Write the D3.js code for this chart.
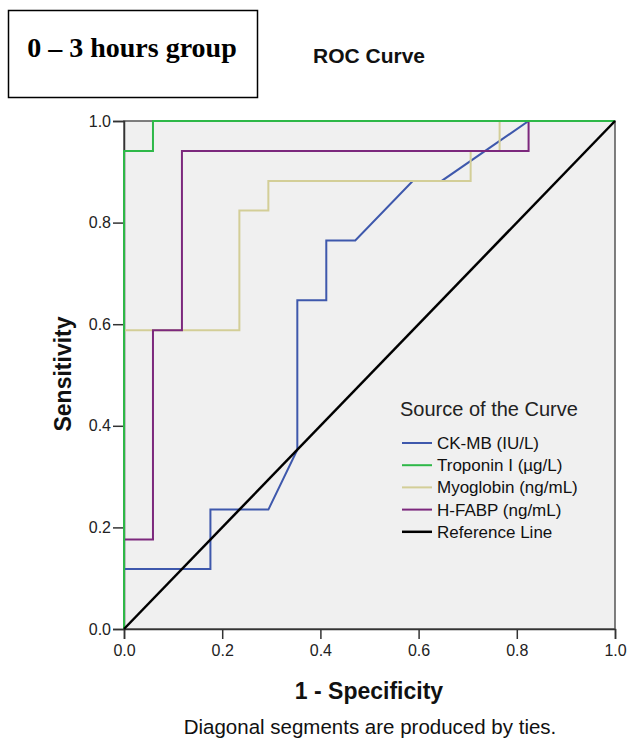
<!DOCTYPE html>
<html>
    <head>
        <title>ROC Curve</title>
        <script src="https://d3js.org/d3.v7.min.js"></script>
        <style>
            body { margin: 0; background: #fff; }
            text { font-family: "Liberation Sans", Arial, sans-serif; }
        </style>
    </head>
    <body>
        <svg width="627" height="743"></svg>
        <script>
            // data (n = 17 per group, steps of 1/17)
            const xTicks = [0, 0.2, 0.4, 0.6, 0.8, 1.0];
            const yTicks = [0, 0.2, 0.4, 0.6, 0.8, 1.0];

            const ckmbX = [0, 0, 0.176, 0.176, 0.294, 0.353, 0.353, 0.412, 0.412, 0.471, 0.588, 0.647, 0.824, 1];
            const ckmbY = [0, 0.118, 0.118, 0.235, 0.235, 0.353, 0.647, 0.647, 0.765, 0.765, 0.882, 0.882, 1, 1];

            const tropX = [0, 0, 0.059, 0.059, 1];
            const tropY = [0, 0.941, 0.941, 1, 1];

            const myoX = [0, 0, 0.235, 0.235, 0.294, 0.294, 0.706, 0.706, 0.765, 0.765, 1];
            const myoY = [0, 0.588, 0.588, 0.824, 0.824, 0.882, 0.882, 0.941, 0.941, 1, 1];

            const hfabpX = [0, 0, 0.059, 0.059, 0.118, 0.118, 0.824, 0.824, 1];
            const hfabpY = [0, 0.176, 0.176, 0.588, 0.588, 0.941, 0.941, 1, 1];

            const refX = [0, 1];
            const refY = [0, 1];

            const seriesNames = ["CK-MB (IU/L)", "Troponin I (µg/L)", "Myoglobin (ng/mL)", "H-FABP (ng/mL)", "Reference Line"];
            const seriesColors = ["#3e58ac", "#2eb848", "#d3ce97", "#7c287d", "#000000"];

            const zip = (xs, ys) => xs.map((v, i) => ({ x: v, y: ys[i] }));
            const series = [
                zip(ckmbX, ckmbY),
                zip(tropX, tropY),
                zip(myoX, myoY),
                zip(hfabpX, hfabpY),
                zip(refX, refY)
            ];

            const svg = d3.select("svg");
            const pLeft = 124, pRight = 615, pTop = 121, pBottom = 629;

            const x = d3.scaleLinear().domain([0, 1]).range([pLeft, pRight]);
            const y = d3.scaleLinear().domain([0, 1]).range([pBottom, pTop]);

            // title box
            svg.append("rect")
                .attr("x", 8.5).attr("y", 10.5)
                .attr("width", 249).attr("height", 87)
                .attr("fill", "#fff").attr("stroke", "#000").attr("stroke-width", 1.5);
            svg.append("text")
                .attr("x", 132).attr("y", 57)
                .attr("text-anchor", "middle")
                .style("font-family", "'Liberation Serif', 'Times New Roman', serif")
                .style("font-weight", "bold")
                .style("font-size", "28px")
                .text("0 – 3 hours group");

            svg.append("text")
                .attr("x", 369).attr("y", 63)
                .attr("text-anchor", "middle")
                .style("font-weight", "bold")
                .style("font-size", "21px")
                .attr("fill", "#111")
                .text("ROC Curve");

            // plot background
            svg.append("rect")
                .attr("x", pLeft).attr("y", pTop)
                .attr("width", pRight - pLeft).attr("height", pBottom - pTop)
                .attr("fill", "#f0f0f0")
                .attr("stroke", "#555").attr("stroke-width", 1.5);

            // axes
            const xAxis = svg.append("g")
                .attr("transform", `translate(0,${pBottom})`)
                .call(d3.axisBottom(x).tickValues(xTicks).tickFormat(d3.format(".1f")).tickSize(10).tickPadding(6));
            const yAxis = svg.append("g")
                .attr("transform", `translate(${pLeft},0)`)
                .call(d3.axisLeft(y).tickValues(yTicks).tickFormat(d3.format(".1f")).tickSize(11).tickPadding(2));
            [xAxis, yAxis].forEach(a => {
                a.select(".domain").attr("stroke", "#333").attr("stroke-width", 1.5);
                a.selectAll(".tick line").attr("stroke", "#333").attr("stroke-width", 1.5);
                a.selectAll(".tick text")
                    .style("font-family", "'Liberation Sans', Arial, sans-serif")
                    .style("font-size", "16px")
                    .attr("fill", "#222");
            });

            // curves
            const line = d3.line().x(d => x(d.x)).y(d => y(d.y));
            const drawOrder = [0, 2, 3, 1, 4];
            drawOrder.forEach(i => {
                svg.append("path")
                    .datum(series[i])
                    .attr("d", line)
                    .attr("fill", "none")
                    .attr("stroke", seriesColors[i])
                    .attr("stroke-width", i === 4 ? 2.5 : 2)
                    .attr("stroke-linejoin", "miter");
            });

            // axis titles
            svg.append("text")
                .attr("transform", "translate(71,374) rotate(-90)")
                .attr("text-anchor", "middle")
                .style("font-weight", "bold")
                .style("font-size", "23px")
                .attr("fill", "#111")
                .text("Sensitivity");
            svg.append("text")
                .attr("x", 369).attr("y", 699)
                .attr("text-anchor", "middle")
                .style("font-weight", "bold")
                .style("font-size", "23px")
                .attr("fill", "#111")
                .text("1 - Specificity");
            svg.append("text")
                .attr("x", 370).attr("y", 734)
                .attr("text-anchor", "middle")
                .style("font-size", "20.5px")
                .attr("fill", "#111")
                .text("Diagonal segments are produced by ties.");

            // legend
            const lg = svg.append("g").attr("transform", "translate(400,0)");
            lg.append("text")
                .attr("x", 0).attr("y", 416)
                .style("font-size", "20px")
                .attr("fill", "#222")
                .text("Source of the Curve");
            seriesNames.forEach((name, i) => {
                const yy = 443 + i * 22.2;
                lg.append("line")
                    .attr("x1", 2).attr("x2", 32)
                    .attr("y1", yy).attr("y2", yy)
                    .attr("stroke", seriesColors[i])
                    .attr("stroke-width", i === 4 ? 2.5 : 2);
                lg.append("text")
                    .attr("x", 37).attr("y", yy + 6)
                    .style("font-size", "17px")
                    .attr("fill", "#111")
                    .text(name);
            });
        </script>
    </body>
</html>
